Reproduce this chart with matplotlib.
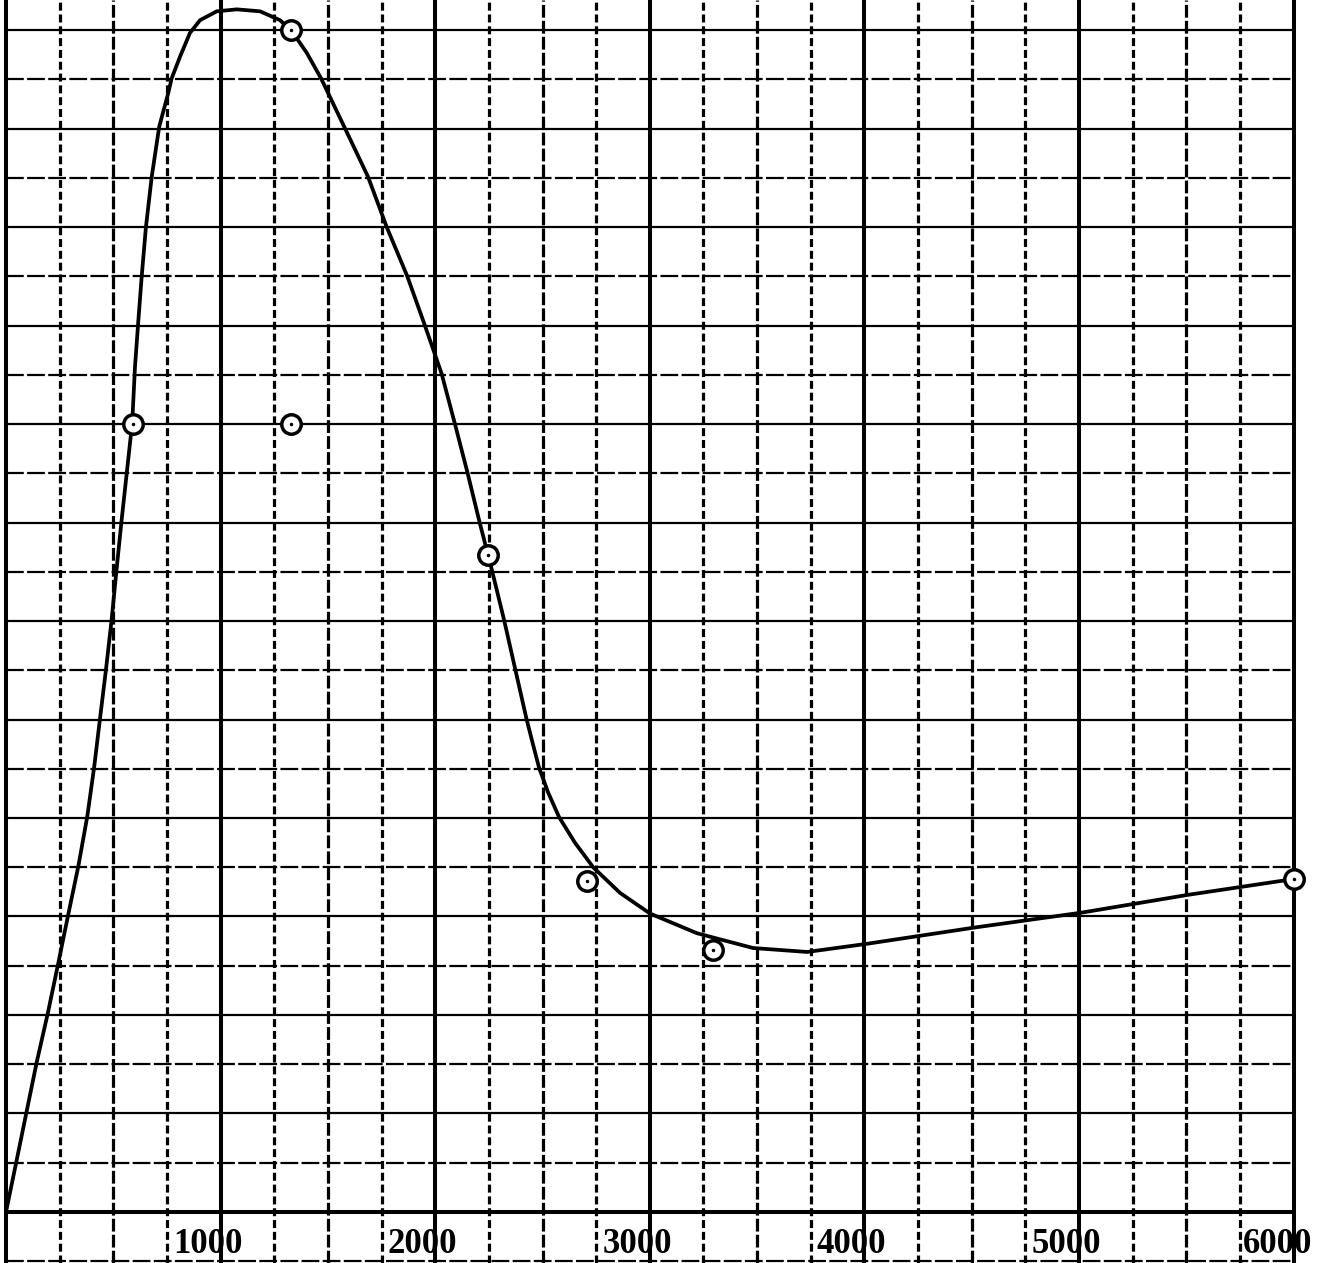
import matplotlib
matplotlib.use("Agg")
import matplotlib.pyplot as plt
import numpy as np

# hand drawn curve
curve_x = [0, 51, 97, 143, 195, 244, 290, 337, 379, 411, 438, 466, 492, 515,
           538, 563, 588, 601, 616, 632, 652, 679, 714, 756, 772, 811, 857, 904,
           982, 1075, 1184, 1277, 1331, 1401, 1468, 1580, 1687, 1774, 1870,
           1952, 2030, 2092, 2150, 2206, 2265, 2321, 2373, 2425, 2453, 2484,
           2526, 2577, 2651, 2736, 2861, 3001, 3220, 3481, 3733, 4003, 4520,
           5014, 5508, 6000]
curve_y = [0, 0.54, 1.03, 1.52, 2.02, 2.53, 3.02, 3.51, 4.02, 4.52, 5.01, 5.51,
           6.01, 6.52, 7.01, 7.51, 8.01, 8.58, 9.03, 9.49, 10.0, 10.51, 11.02, 11.36,
           11.51, 11.73, 11.97, 12.10, 12.19, 12.21, 12.19, 12.10, 11.99, 11.77,
           11.51, 11.0, 10.51, 10.0, 9.5, 9.0, 8.51, 8.0, 7.51, 7.01, 6.51, 6.01,
           5.51, 5.01, 4.77, 4.51, 4.26, 4.01, 3.75, 3.5, 3.24, 3.03, 2.83, 2.68,
           2.64, 2.72, 2.89, 3.04, 3.22, 3.38]

# measured points (circles)
pts_x = [590, 1330, 1330, 2245, 2705, 3295, 6000]
pts_y = [8.0, 12.0, 8.0, 6.67, 3.36, 2.66, 3.38]

tick_vals = [1000, 2000, 3000, 4000, 5000, 6000]
tick_labels = ["1000", "2000", "3000", "4000", "5000", "6000"]

fig = plt.figure(figsize=(13.17, 12.63), dpi=100)
ax = fig.add_axes([0, 0, 1, 1])
ax.set_xlim(-28, 6109)
ax.set_ylim(-0.518, 12.305)
ax.axis("off")

# graph paper
y0, y1 = ax.get_ylim()
for v in np.arange(0, 6001, 250):
    if v % 1000 == 0:
        ax.vlines(v, y0, y1, color="black", lw=2.9, zorder=1)
    elif v % 500 == 0:
        ax.vlines(v, y0, y1, color="black", lw=2.3, ls=(0, (4, 1)), zorder=1)
    else:
        ax.vlines(v, y0, y1, color="black", lw=2.3, ls=(0, (2.5, 1.2)), zorder=1)

for h in np.arange(-0.5, 12.01, 0.5):
    if h == 0:
        ax.hlines(h, 0, 6000, color="black", lw=2.9, zorder=1)
    elif h % 1 == 0:
        ax.hlines(h, 0, 6000, color="black", lw=1.6, zorder=1)
    else:
        ax.hlines(h, 0, 6000, color="black", lw=1.6, ls=(0, (8, 1.5)), zorder=1)

ax.plot(curve_x, curve_y, color="black", lw=2.7, solid_capstyle="round",
        solid_joinstyle="round", zorder=3)
ax.plot(pts_x, pts_y, "o", ms=14, mfc="white", mec="black", mew=2.5, zorder=4, clip_on=False)
ax.plot(pts_x, pts_y, ".", ms=3, color="black", zorder=5)

for v, lab in zip(tick_vals, tick_labels):
    dx = -75 if v == 6000 else -60
    ax.text(v + dx, -0.335, lab, ha="center", va="center", fontsize=25,
            fontweight="bold", family="Liberation Serif", zorder=6)

fig.savefig("out.png", dpi=100, facecolor="white")
